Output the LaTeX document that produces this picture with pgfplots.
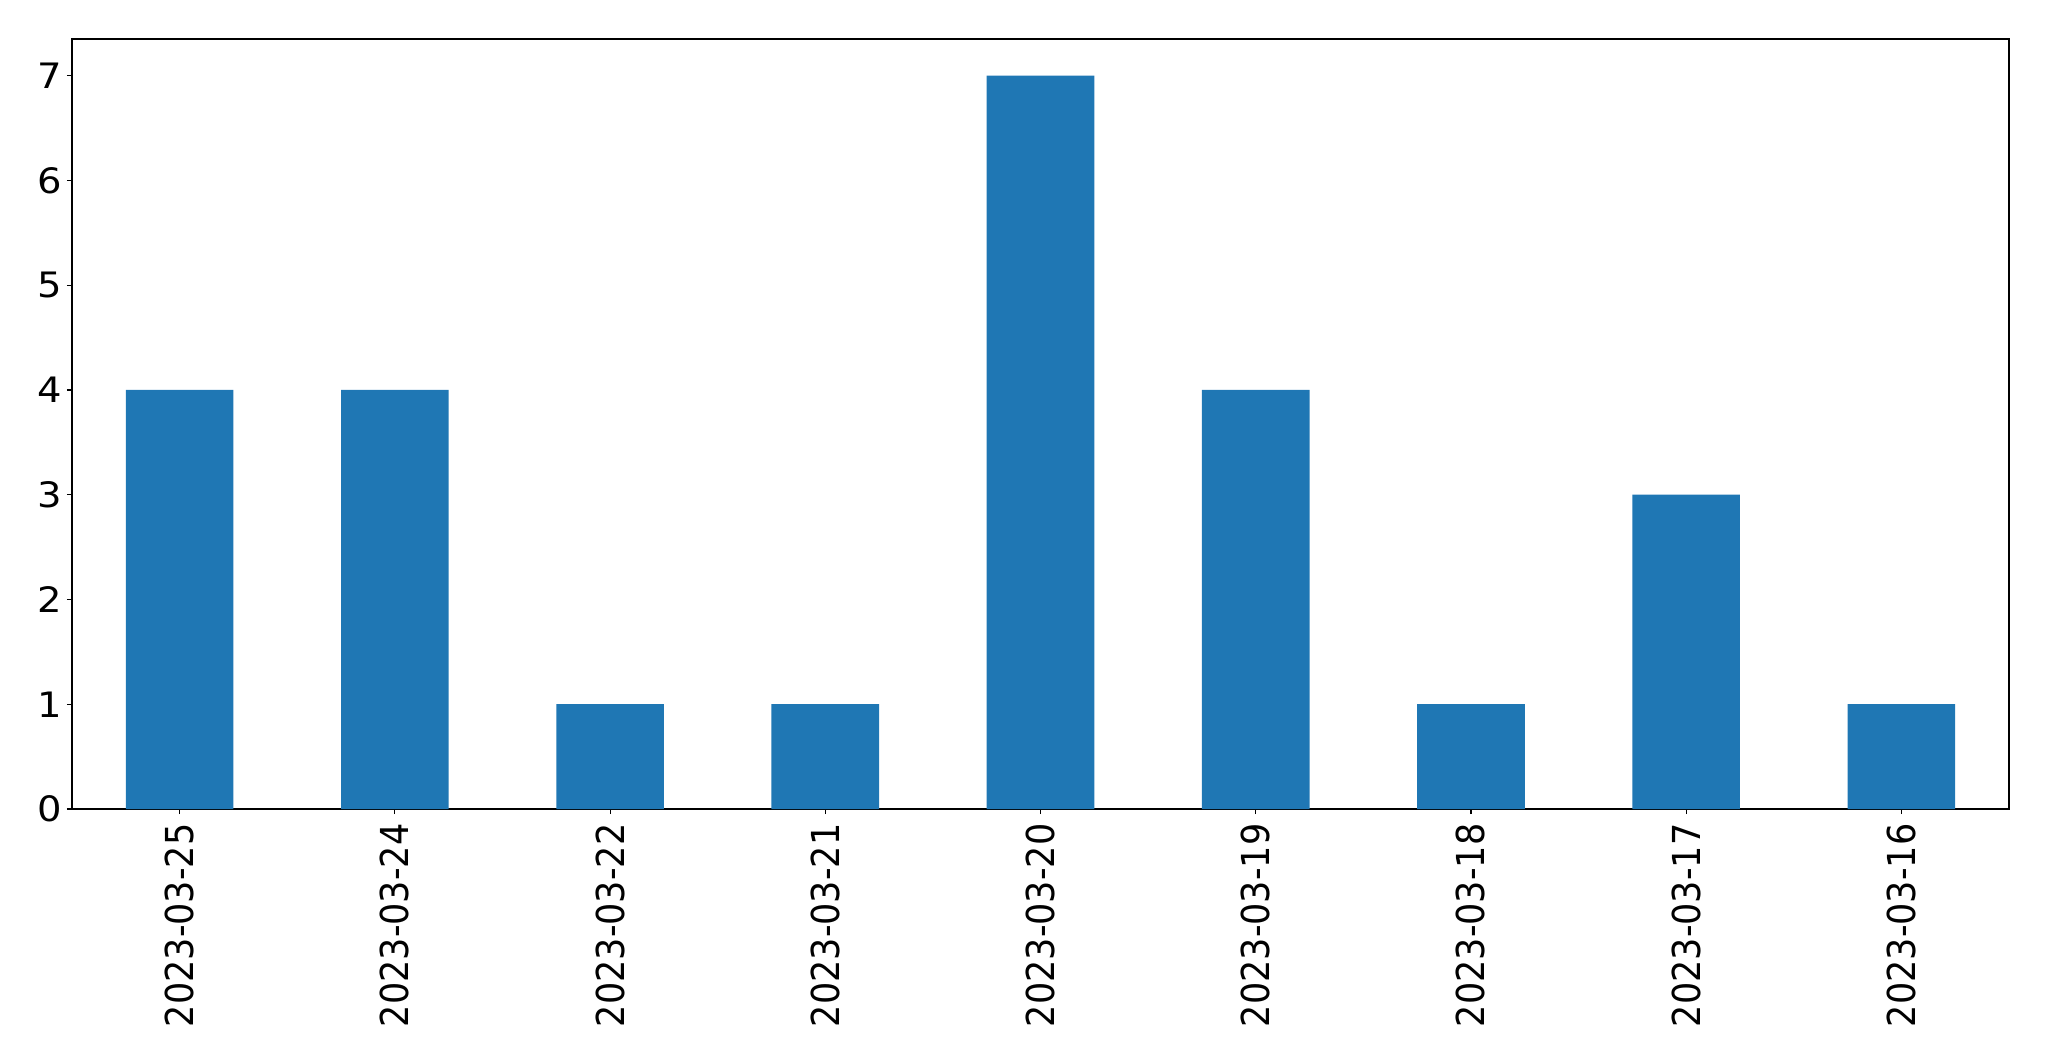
\documentclass[border=0pt]{standalone}
\usepackage{graphicx}
\usepackage{pgfplots}
\pgfplotsset{compat=1.18}
\usepackage{fontspec}
\setmainfont{DejaVu Sans}
\newfontfamily\ytickfont[FakeStretch=1.1]{DejaVu Sans}
\definecolor{mplblue}{HTML}{1F77B4}
\newcommand{\xl}[1]{\scalebox{1}[1.1]{#1}}
\begin{document}
\begin{tikzpicture}
\begin{axis}[
  scale only axis,
  width=968.5pt, height=385pt,
  xmin=-0.5, xmax=8.5,
  ymin=0, ymax=7.35,
  xtick={0,1,2,3,4,5,6,7,8},
  xticklabels={\xl{2023-03-25},\xl{2023-03-24},\xl{2023-03-22},\xl{2023-03-21},\xl{2023-03-20},\xl{2023-03-19},\xl{2023-03-18},\xl{2023-03-17},\xl{2023-03-16}},
  ytick={0,1,2,3,4,5,6,7},
  xticklabel style={rotate=90, anchor=east, font=\fontsize{17.5}{20}\selectfont, inner sep=0pt},
  yticklabel style={font=\ytickfont\fontsize{17.5}{20}\selectfont, inner sep=0pt},
  /pgf/number format/assume math mode=true,
  major tick length=2.6pt,
  tick align=outside,
  tick style={black, line width=0.55pt},
  xtick pos=bottom, ytick pos=left,
  xticklabel shift=4.5pt, yticklabel shift=2pt,
  axis line style={line width=0.55pt},
]
\addplot[ybar, bar width=0.5, fill=mplblue, draw=none] coordinates {
(0,4) (1,4) (2,1) (3,1) (4,7) (5,4) (6,1) (7,3) (8,1)};
\end{axis}
\path ([xshift=-36pt,yshift=-125.5pt]current axis.south west) rectangle ([xshift=20pt,yshift=19.5pt]current axis.north east);
\end{tikzpicture}
\end{document}
